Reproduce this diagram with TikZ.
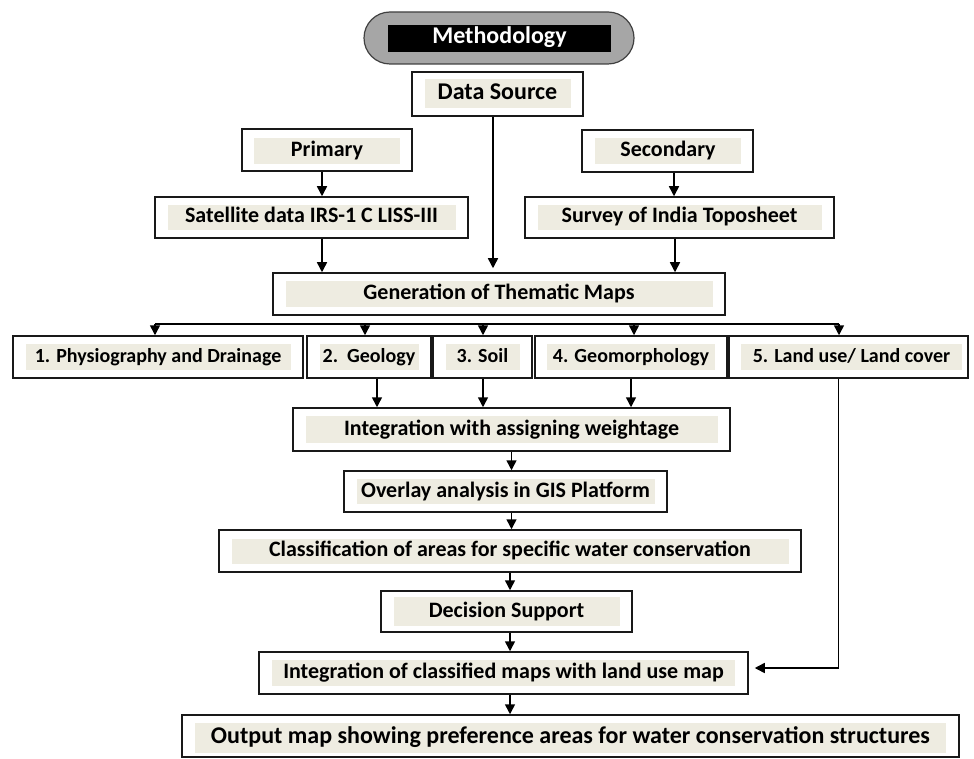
\documentclass[tikz,border=0pt]{standalone}
\usepackage{fontspec}
\setmainfont{Carlito}
\usetikzlibrary{arrows.meta,calc}
\definecolor{tanbg}{HTML}{EEECE1}
\definecolor{pillgray}{HTML}{A6A6A6}

\begin{document}
\begin{tikzpicture}[x=1pt, y=-1pt,
    outer/.style={draw=black!90, line width=1.5pt, inner sep=0pt},
    inner/.style={fill=tanbg, inner sep=0pt, text height=15pt, text depth=4pt,
        font=\fontsize{22}{26}\selectfont\bfseries},
    bigtext/.style={font=\fontsize{24}{28}\selectfont\bfseries},
    smalltext/.style={font=\fontsize{20}{24}\selectfont\bfseries},
    arr/.style={-{Triangle[length=10pt,width=10pt]}, line width=1.5pt},
    link/.style={line width=1.5pt}]
    \useasboundingbox (0,0) rectangle (974,759);

    % Title
    \node[draw=black!75, fill=pillgray, line width=1.2pt, rounded corners=26pt,
        minimum width=270, minimum height=52] (pill) at (499,38) {};
    \node[inner, bigtext, fill=black, text=white, minimum width=223, minimum height=27] (method) at (499.5,38.5) {Methodology};

    % Data source and its two branches
    \node[outer, minimum width=171, minimum height=44] (data) at (497.5,94) {};
    \node[inner, bigtext, minimum width=146, minimum height=29] (data-l) at (data) {Data Source};

    \node[outer, minimum width=170, minimum height=42] (prim) at (327,150) {};
    \node[inner, minimum width=146, minimum height=26] (prim-l) at (327,151) {Primary};
    \node[outer, minimum width=171, minimum height=42] (sec) at (667.5,151) {};
    \node[inner, minimum width=146, minimum height=26] (sec-l) at (668,151) {Secondary};

    \node[outer, minimum width=313, minimum height=41] (sat) at (311.5,217.5) {};
    \node[inner, minimum width=288, minimum height=25] (sat-l) at (sat) {Satellite data IRS-1 C LISS-III};
    \node[outer, minimum width=309, minimum height=41] (surv) at (679.5,217.5) {};
    \node[inner, minimum width=284, minimum height=25] (surv-l) at (surv) {Survey of India Toposheet};

    \node[outer, minimum width=452, minimum height=42] (gen) at (499,294) {};
    \node[inner, minimum width=427, minimum height=25] (gen-l) at (gen) {Generation of Thematic Maps};

    % Thematic layers
    \node[outer, minimum width=290, minimum height=42] (t1) at (158,357) {};
    \node[inner, smalltext, minimum width=265, minimum height=26] (t1-l) at (t1) {1. Physiography and Drainage};
    \node[outer, minimum width=124, minimum height=42] (t2) at (369,357) {};
    \node[inner, smalltext, minimum width=99, minimum height=26] (t2-l) at (t2) {2.\ \ Geology};
    \node[outer, minimum width=99, minimum height=42] (t3) at (482.5,357) {};
    \node[inner, smalltext, minimum width=74, minimum height=26] (t3-l) at (t3) {3. Soil};
    \node[outer, minimum width=192, minimum height=42] (t4) at (631,357) {};
    \node[inner, smalltext, minimum width=168, minimum height=26] (t4-l) at (t4) {4. Geomorphology};
    \node[outer, minimum width=239, minimum height=42] (t5) at (848.5,357) {};
    \node[inner, smalltext, minimum width=221, minimum height=26] (t5-l) at (851.5,357) {5. Land use/ Land cover};

    % Analysis chain
    \node[outer, minimum width=437, minimum height=43] (integ) at (511.5,429.5) {};
    \node[inner, minimum width=412, minimum height=27] (integ-l) at (integ) {Integration with assigning weightage};
    \node[outer, minimum width=323, minimum height=41] (overlay) at (505.5,491.5) {};
    \node[inner, minimum width=298, minimum height=25] (overlay-l) at (overlay) {Overlay analysis in GIS Platform};
    \node[outer, minimum width=582, minimum height=42] (class) at (510,551) {};
    \node[inner, minimum width=557, minimum height=25] (class-l) at (class) {Classification of areas for specific water conservation};
    \node[outer, minimum width=251, minimum height=41] (dec) at (506.5,611.5) {};
    \node[inner, minimum width=226, minimum height=29] (dec-l) at (dec) {Decision Support};
    \node[outer, minimum width=489, minimum height=42] (integ2) at (503.5,673) {};
    \node[inner, minimum width=463, minimum height=26] (integ2-l) at (integ2) {Integration of classified maps with land use map};
    \node[outer, minimum width=777, minimum height=42] (out) at (570.5,736) {};
    \node[inner, bigtext, minimum width=751, minimum height=30] (out-l) at (570.5,738) {Output map showing preference areas for water conservation structures};

    % Arrows in the upper part
    \draw[arr] ($(data.south)+(-4.5,0)$) -- ($(data.south |- gen.north)+(-4.5,-4)$);
    \draw[arr] ($(prim.south)+(-5,0)$) -- ($(prim.south |- sat.north)+(-5,0)$);
    \draw[arr] ($(sat.south)+(10.5,0)$) -- ($(sat.south |- gen.north)+(10.5,0)$);
    \draw[arr] ($(sec.south)+(6.5,0)$) -- ($(sec.south |- surv.north)+(6.5,0)$);
    \draw[arr] ($(surv.south)+(-4.5,0)$) -- ($(surv.south |- gen.north)+(-4.5,0)$);

    % Split to the thematic layers
    \coordinate (split) at ($(gen.south)+(0,8)$);
    \draw[link] ($(split -| t1.north)+(-3,0)$) -- ($(split -| t5.north)+(-9.5,0)$);
    \foreach \b/\dx in {t1/-3, t2/-4, t3/0.5, t4/3, t5/-9.5}
        \draw[arr] ($(split -| \b.north)+(\dx,0)$) -- ($(\b.north)+(\dx,0)$);

    % Layers into integration
    \foreach \b/\dx in {t2/8, t3/0.5, t4/0}
        \draw[arr] ($(\b.south)+(\dx,0)$) -- ($(\b.south |- integ.north)+(\dx,0)$);

    % Down the chain
    \draw[arr] (integ.south) -- (integ.south |- overlay.north);
    \draw[arr] (overlay.south -| integ.south) -- (integ.south |- class.north);
    \draw[arr] (class.south) -- (class.south |- dec.north);
    \draw[arr] (dec.south -| class.south) -- (class.south |- integ2.north);
    \draw[arr] (integ2.south -| class.south) -- (class.south |- out.north);

    % Land use back into the last integration
    \draw[arr] ($(t5.south)+(-10,0)$) |- ($(integ2.east)+(6,-5)$);

\end{tikzpicture}
\end{document}
